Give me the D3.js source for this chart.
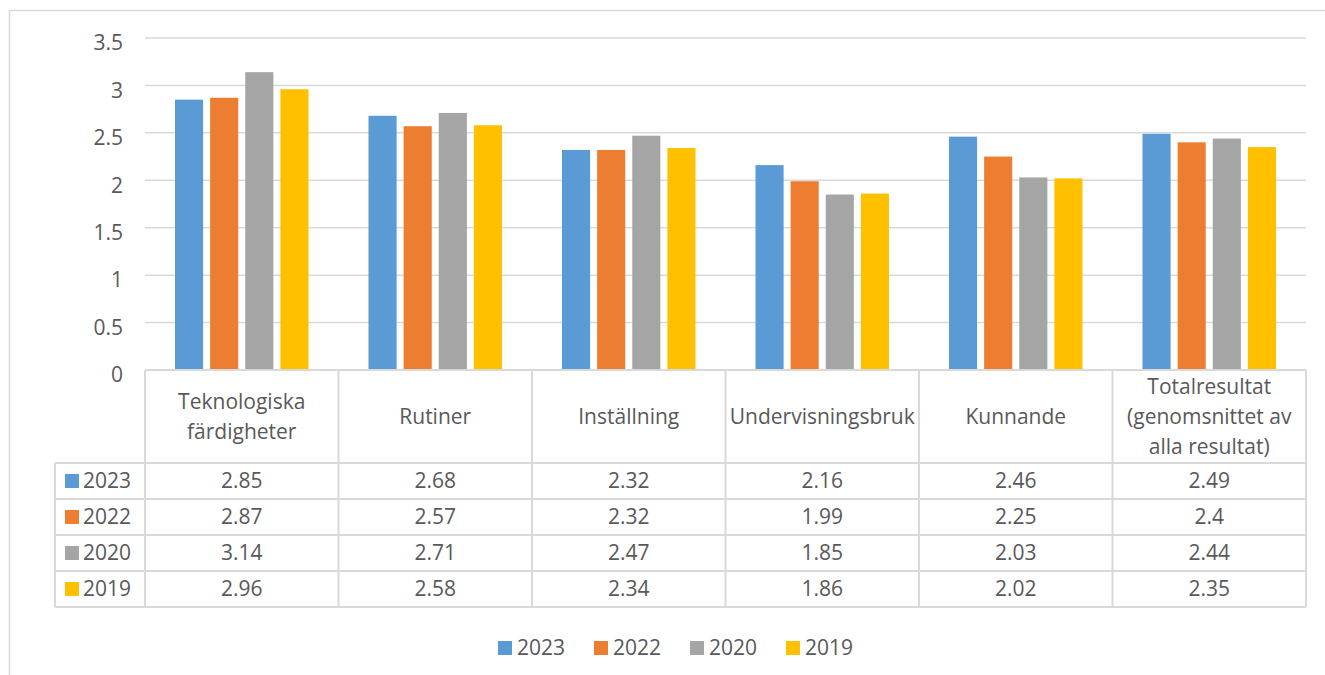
<!DOCTYPE html>
<html>
<head>
<meta charset="utf-8">
<script src="https://cdn.jsdelivr.net/npm/d3@7/dist/d3.min.js"></script>
<style>
  html, body { margin: 0; padding: 0; background: #fff; }
  svg text { font-family: "Open Sans", Lato, "Noto Sans", sans-serif; fill: #595959; }
</style>
</head>
<body>
<svg id="chart" width="1325" height="675"></svg>
<script>
// Category headers (each entry is a list of wrapped lines)
const categories = [
  ["Teknologiska", "färdigheter"],
  ["Rutiner"],
  ["Inställning"],
  ["Undervisningsbruk"],
  ["Kunnande"],
  ["Totalresultat", "(genomsnittet av", "alla resultat)"]
];
const seriesNames = ["2023", "2022", "2020", "2019"];
const seriesColors = ["#5B9BD5", "#ED7D31", "#A5A5A5", "#FFC000"];
const values2023 = [2.85, 2.68, 2.32, 2.16, 2.46, 2.49];
const values2022 = [2.87, 2.57, 2.32, 1.99, 2.25, 2.4];
const values2020 = [3.14, 2.71, 2.47, 1.85, 2.03, 2.44];
const values2019 = [2.96, 2.58, 2.34, 1.86, 2.02, 2.35];
const yTicks = [0, 0.5, 1, 1.5, 2, 2.5, 3, 3.5];

const seriesValues = [values2023, values2022, values2020, values2019];
const gridColor = "#d9d9d9";
const fontSize = 21;

const svg = d3.select("#chart");

// Outer chart frame
svg.append("rect")
  .attr("x", 9.5).attr("y", 10.5).attr("width", 1330).attr("height", 700)
  .attr("fill", "none").attr("stroke", gridColor).attr("stroke-width", 1.5);

const plot = { left: 145, right: 1306, top: 38, bottom: 370 };

const x = d3.scaleBand()
  .domain(d3.range(categories.length))
  .range([plot.left, plot.right]);

const inner = d3.scaleBand()
  .domain(d3.range(seriesNames.length))
  .range([30, x.bandwidth() - 30])
  .paddingInner(0.2);

const y = d3.scaleLinear().domain([0, 3.5]).range([plot.bottom, plot.top]);

// Gridlines
svg.append("g").selectAll("line")
  .data(yTicks.filter(t => t > 0))
  .join("line")
  .attr("x1", plot.left).attr("x2", plot.right)
  .attr("y1", d => y(d)).attr("y2", d => y(d))
  .attr("stroke", gridColor).attr("stroke-width", 1.5);

// Y axis labels (sit slightly below their gridlines)
const yAxis = d3.axisLeft(y).tickValues(yTicks).tickSize(0).tickPadding(0)
  .tickFormat(d3.format(""));
const yg = svg.append("g").attr("transform", `translate(123,5)`).call(yAxis);
yg.select(".domain").remove();
yg.selectAll("text").attr("font-size", fontSize).attr("fill", "#595959")
  .style("font-family", "'Open Sans', Lato, sans-serif");

// Bars
seriesValues.forEach((vals, si) => {
  svg.append("g").selectAll("rect")
    .data(vals)
    .join("rect")
    .attr("x", (d, i) => x(i) + inner(si))
    .attr("width", inner.bandwidth())
    .attr("y", d => y(d))
    .attr("height", d => y(0) - y(d))
    .attr("fill", seriesColors[si]);
});

// Data table
const headerBottom = 463;
const rowH = 36;
const tableLeft = 55;
const tableBottom = headerBottom + rowH * seriesNames.length;
const tbl = svg.append("g").attr("stroke", gridColor).attr("stroke-width", 2);

// horizontal lines
tbl.append("line").attr("x1", plot.left).attr("x2", plot.right)
  .attr("y1", plot.bottom).attr("y2", plot.bottom);
d3.range(seriesNames.length + 1).forEach(r => {
  const yy = headerBottom + r * rowH;
  tbl.append("line").attr("x1", tableLeft).attr("x2", plot.right)
    .attr("y1", yy).attr("y2", yy);
});
// vertical lines
d3.range(categories.length + 1).forEach(c => {
  const xx = plot.left + c * x.step();
  tbl.append("line").attr("x1", xx).attr("x2", xx)
    .attr("y1", plot.bottom).attr("y2", tableBottom);
});
tbl.append("line").attr("x1", tableLeft).attr("x2", tableLeft)
  .attr("y1", headerBottom).attr("y2", tableBottom);

// Category header text
const lineH = 30;
categories.forEach((lines, i) => {
  const cx = x(i) + x.bandwidth() / 2;
  const cy = (plot.bottom + headerBottom) / 2;
  const start = cy - (lines.length - 1) * lineH / 2;
  const t = svg.append("text").attr("text-anchor", "middle")
    .attr("font-size", fontSize);
  lines.forEach((ln, k) => {
    t.append("tspan").attr("x", cx).attr("y", start + k * lineH)
      .attr("dy", "0.35em").text(ln);
  });
});

// Row legend keys and values
seriesNames.forEach((name, si) => {
  const cy = headerBottom + si * rowH + rowH / 2;
  svg.append("rect").attr("x", 65).attr("y", cy - 7).attr("width", 14).attr("height", 14)
    .attr("fill", seriesColors[si]);
  svg.append("text").attr("x", 83).attr("y", cy).attr("dy", "0.35em")
    .attr("font-size", fontSize).text(name);
  seriesValues[si].forEach((v, i) => {
    svg.append("text").attr("x", x(i) + x.bandwidth() / 2).attr("y", cy)
      .attr("dy", "0.35em").attr("text-anchor", "middle")
      .attr("font-size", fontSize).text(v);
  });
});

// Bottom legend
const legend = svg.append("g");
seriesNames.forEach((name, si) => {
  const lx = 498 + si * 96;
  legend.append("rect").attr("x", lx).attr("y", 641).attr("width", 14).attr("height", 14)
    .attr("fill", seriesColors[si]);
  legend.append("text").attr("x", lx + 19).attr("y", 648).attr("dy", "0.35em")
    .attr("font-size", fontSize).text(name);
});
</script>
</body>
</html>
